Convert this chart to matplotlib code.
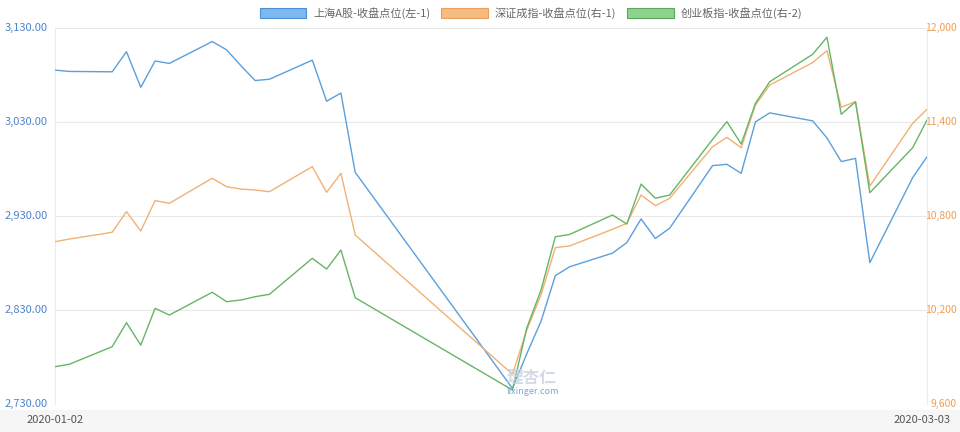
import numpy as np
import pandas as pd
import matplotlib
matplotlib.use("Agg")
import matplotlib.pyplot as plt
import matplotlib.dates as mdates
from matplotlib.patches import Patch, Rectangle
from matplotlib.transforms import blended_transform_factory

plt.rcParams['font.family'] = ['Noto Sans CJK SC', 'DejaVu Sans']

# --- data ---
dates = ['2020-01-02', '2020-01-03', '2020-01-06', '2020-01-07', '2020-01-08',
         '2020-01-09', '2020-01-10', '2020-01-13', '2020-01-14', '2020-01-15',
         '2020-01-16', '2020-01-17', '2020-01-20', '2020-01-21', '2020-01-22',
         '2020-01-23', '2020-02-03', '2020-02-04', '2020-02-05', '2020-02-06',
         '2020-02-07', '2020-02-10', '2020-02-11', '2020-02-12', '2020-02-13',
         '2020-02-14', '2020-02-17', '2020-02-18', '2020-02-19', '2020-02-20',
         '2020-02-21', '2020-02-24', '2020-02-25', '2020-02-26', '2020-02-27',
         '2020-02-28', '2020-03-02', '2020-03-03']

sh_close = [3085.2, 3083.8, 3083.4, 3104.8, 3066.9, 3094.9, 3092.3, 3115.6, 3106.8,
            3090.0, 3074.1, 3075.5, 3095.8, 3052.1, 3060.8, 2976.5, 2746.6, 2783.3,
            2818.1, 2866.5, 2876.0, 2890.5, 2901.7, 2926.9, 2906.1, 2917.0, 2983.6,
            2985.0, 2975.4, 3030.2, 3039.7, 3031.2, 3013.1, 2987.9, 2991.3, 2880.3,
            2970.9, 2992.9]

sz_close = [10636, 10653, 10696, 10828, 10704, 10898, 10881, 11041, 10987, 10972,
            10966, 10955, 11115, 10951, 11073, 10679, 9790, 10072, 10296, 10598,
            10609, 10715, 10753, 10934, 10866, 10913, 11242, 11302, 11236, 11508,
            11636, 11779, 11855, 11494, 11530, 10991, 11392, 11481]

cyb_close = [1822.6, 1826.0, 1850.8, 1884.6, 1853.0, 1904.8, 1895.4, 1927.5, 1914.2,
             1916.6, 1921.2, 1924.6, 1975.4, 1960.3, 1987.0, 1919.8, 1789.7, 1877.0,
             1930.7, 2005.8, 2009.0, 2036.4, 2023.7, 2080.0, 2060.0, 2064.6, 2143.0,
             2168.0, 2136.5, 2193.9, 2224.3, 2262.9, 2286.9, 2178.4, 2196.0, 2067.8,
             2131.3, 2170.3]

labels = ['上海A股-收盘点位(左-1)', '深证成指-收盘点位(右-1)', '创业板指-收盘点位(右-2)']
left_ticks = [2730, 2830, 2930, 3030, 3130]
right_ticks = [9600, 10200, 10800, 11400, 12000]

x = pd.to_datetime(dates)

c_blue, c_orange, c_green = '#5b9fdc', '#f0b274', '#66b566'
W, H = 960, 432
fig = plt.figure(figsize=(W / 100, H / 100), dpi=100)
fig.patch.set_facecolor('white')
fig.patches.append(Rectangle((0, 0), 1, 22 / H, transform=fig.transFigure,
                             facecolor='#f6f6f6', edgecolor='none', zorder=0))

ax = fig.add_axes([55 / W, 28 / H, (927 - 55) / W, (404 - 28) / H])
ax.set_facecolor('none')
ax2 = ax.twinx()
ax3 = ax.twinx()

ax.plot(x, sh_close, color=c_blue, lw=1.0, zorder=3)
ax2.plot(x, sz_close, color=c_orange, lw=1.0, zorder=3)
ax3.plot(x, cyb_close, color=c_green, lw=1.0, zorder=3)

ax.set_xlim(x[0], x[-1])
ax.set_ylim(2730, 3130)
ax2.set_ylim(9600, 12000)
ax3.set_ylim(1770, 2300)

for a in (ax, ax2, ax3):
    a.set_xticks([])
    a.set_yticks([])
    for s in a.spines.values():
        s.set_visible(False)
ax.spines['left'].set_visible(True)
ax.spines['left'].set_color('#ececec')
ax.spines['right'].set_visible(True)
ax.spines['right'].set_color('#ececec')

for v in left_ticks:
    ax.axhline(v, color='#e9e9e9', lw=0.8, zorder=0)

trans_l = blended_transform_factory(fig.transFigure, ax.transData)
for v in left_ticks:
    ax.text(5 / W, v, f'{v:,.2f}', transform=trans_l, ha='left', va='center',
            fontsize=8, color='#4d84cf', clip_on=False)
# right labels: right-aligned so they stay inside the canvas
trans_r = blended_transform_factory(fig.transFigure, ax2.transData)
for v in right_ticks:
    ax2.text(957 / W, v, f'{v:,}', transform=trans_r, ha='right', va='center',
             fontsize=7.5, color='#ef9d52', clip_on=False)

fig.text(55 / W, 1 - 420 / H, dates[0], ha='center', va='center', fontsize=8, color='#555555')
fig.text(922 / W, 1 - 420 / H, dates[-1], ha='center', va='center', fontsize=8, color='#555555')

# watermark
fig.text(532 / W, 1 - 378 / H, '理杏仁', ha='center', va='center', fontsize=12,
         color='#c9d3e3', alpha=0.8, fontweight='bold')
fig.text(532 / W, 1 - 392 / H, 'lixinger.com', ha='center', va='center', fontsize=6.5,
         color='#5d8fc9', alpha=0.8)

handles = [Patch(facecolor='#7db8f0', edgecolor='#4a8fd8', lw=0.8),
           Patch(facecolor='#f6bb80', edgecolor='#e8a060', lw=0.8),
           Patch(facecolor='#8fd28f', edgecolor='#5aa85a', lw=0.8)]
fig.legend(handles, labels, loc='center', bbox_to_anchor=(531 / W, 1 - 13 / H), ncol=3,
           frameon=False, fontsize=8, handlelength=4.2, handleheight=1.1,
           handletextpad=0.6, columnspacing=1.0, labelcolor='#666666')

fig.savefig('out.png', dpi=100)
